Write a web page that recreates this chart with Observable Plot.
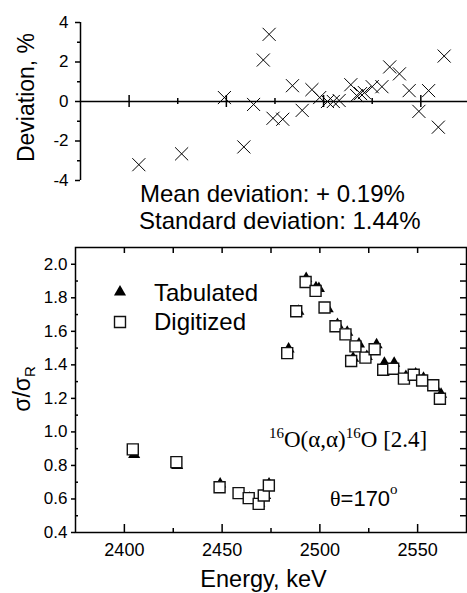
<!DOCTYPE html>
<html><head><meta charset="utf-8">
<script src="https://cdn.jsdelivr.net/npm/d3@7"></script>
<script src="https://cdn.jsdelivr.net/npm/@observablehq/plot@0.6"></script>
<style>
html,body{margin:0;padding:0;background:#fff;}
#wrap{position:relative;width:467px;height:593px;overflow:hidden;font-family:"Liberation Sans",Arial,sans-serif;}
#wrap svg{position:absolute;left:0;}
</style></head><body><div id="wrap"></div>
<script>
// ---- data ----
const devEnergy  = [2405, 2427, 2449, 2459, 2464, 2469, 2472, 2474, 2479, 2484, 2489, 2494, 2498, 2502, 2505, 2508, 2514, 2517, 2519, 2521, 2525, 2530, 2534, 2539, 2544, 2549, 2554, 2559, 2562];
const devPercent = [-3.2, -2.65, 0.2, -2.3, -0.15, 2.1, 3.4, -0.85, -0.9, 0.8, -0.45, 0.6, 0.2, 0.0, 0.0, 0.05, 0.85, 0.3, 0.4, 0.45, 0.75, 0.75, 1.75, 1.4, 0.55, -0.5, 0.55, -1.3, 2.3];

const digEnergy = [2404.3, 2426.6, 2448.7, 2458.4, 2463.6, 2468.7, 2471.3, 2473.9, 2483.3, 2487.9, 2492.7, 2497.8, 2502.4, 2508, 2513.1, 2516, 2518.2, 2523.3, 2528, 2532.4, 2537.5, 2543, 2548, 2552.3, 2558, 2561.4];
const digSigma  = [0.896, 0.82, 0.67, 0.635, 0.605, 0.571, 0.621, 0.68, 1.47, 1.72, 1.894, 1.841, 1.742, 1.63, 1.582, 1.423, 1.51, 1.443, 1.493, 1.371, 1.377, 1.318, 1.341, 1.307, 1.278, 1.198];

const tabEnergy = [2405, 2427, 2449, 2459, 2464, 2469, 2472, 2474, 2484, 2489, 2493, 2498, 2499.5, 2504, 2509, 2514, 2517, 2520, 2524, 2529, 2533, 2538, 2544, 2549, 2553, 2559, 2562];
const tabSigma  = [0.866, 0.80, 0.69, 0.62, 0.605, 0.575, 0.62, 0.69, 1.495, 1.72, 1.915, 1.86, 1.855, 1.735, 1.64, 1.595, 1.44, 1.525, 1.45, 1.52, 1.41, 1.41, 1.33, 1.345, 1.32, 1.265, 1.225];

const xDomain = [2375, 2575];
const xMajorTicks = [2400, 2450, 2500, 2550];
const xMinorTicks = [2425, 2475, 2525];
const xTopTicks = [2400, 2425, 2450, 2475, 2500, 2525, 2550];
const devDomain = [-4, 4];
const devMajorTicks = [-4, -2, 0, 2, 4];
const devMinorTicks = [-3, -1, 1, 3];
const sigmaDomain = [0.4, 2.1];
const sigmaMajorTicks = [0.4, 0.6, 0.8, 1.0, 1.2, 1.4, 1.6, 1.8, 2.0];
const sigmaMinorTicks = [0.5, 0.7, 0.9, 1.1, 1.3, 1.5, 1.7, 1.9];
const sigmaRightTicks = [0.5, 0.6, 0.7, 0.8, 0.9, 1.0, 1.1, 1.2, 1.3, 1.4, 1.5, 1.6, 1.7, 1.8, 1.9, 2.0];

const dev = devEnergy.map((e, i) => ({e, d: devPercent[i]}));
const dig = digEnergy.map((e, i) => ({e, s: digSigma[i]}));
const tab = tabEnergy.map((e, i) => ({e, s: tabSigma[i]}));

const font = "'Liberation Sans', Arial, sans-serif";
const wrap = document.getElementById("wrap");

// ---- top panel: deviation ----
const topPlot = Plot.plot({
  width: 467, height: 200,
  marginLeft: 80, marginRight: 0, marginTop: 22, marginBottom: 20,
  style: {fontFamily: font, fontSize: "17px", color: "#000", background: "transparent", overflow: "visible"},
  x: {domain: [xDomain[0], 2574], axis: null, label: null},
  y: {domain: devDomain, label: null},
  marks: [
    Plot.ruleX([xDomain[0]], {stroke: "#000", strokeWidth: 1.5}),
    Plot.ruleY([0], {stroke: "#000", strokeWidth: 1.5}),
    Plot.ruleX(xMajorTicks, {y1: 0, y2: 0, insetTop: -6, insetBottom: -6, stroke: "#000", strokeWidth: 1.5}),
    Plot.ruleX(xMinorTicks, {y1: 0, y2: 0, insetTop: -3, insetBottom: -3, stroke: "#000", strokeWidth: 1.5}),
    Plot.axisY(devMajorTicks, {anchor: "left", tickSize: 5, tickPadding: 7, strokeWidth: 1.5, tickFormat: d => String(d), label: null, fontSize: 17}),
    Plot.axisY(devMinorTicks, {anchor: "left", tickSize: 3, strokeWidth: 1.5, tickFormat: () => "", label: null}),
    Plot.dot(dev, {x: "e", y: "d", symbol: "times", r: 6, stroke: "#000", strokeWidth: 1})
  ]
});
topPlot.style.top = "0px";
wrap.appendChild(topPlot);

// ---- bottom panel: cross sections ----
const botPlot = Plot.plot({
  width: 467, height: 353,
  marginLeft: 75, marginRight: 1, marginTop: 7, marginBottom: 61,
  style: {fontFamily: font, fontSize: "17px", color: "#000", background: "transparent", overflow: "visible"},
  x: {domain: xDomain, label: null},
  y: {domain: sigmaDomain, label: null},
  marks: [
    Plot.axisX(xMajorTicks, {anchor: "bottom", tickSize: 0, tickPadding: 11, tickFormat: d => String(d), label: null, fontSize: 18}),
    Plot.axisX(xMajorTicks, {anchor: "bottom", tickSize: -8, strokeWidth: 1.5, tickFormat: () => "", label: null}),
    Plot.axisX(xMinorTicks, {anchor: "bottom", tickSize: -4, strokeWidth: 1.5, tickFormat: () => "", label: null}),
    Plot.axisX(xTopTicks, {anchor: "top", tickSize: -5, strokeWidth: 1.5, tickFormat: () => "", label: null}),
    Plot.axisY(sigmaMajorTicks, {anchor: "left", tickSize: 4, tickPadding: 4, strokeWidth: 1.5, tickFormat: d3.format(".1f"), label: null, fontSize: 17}),
    Plot.axisY(sigmaMinorTicks, {anchor: "left", tickSize: -3, strokeWidth: 1.5, tickFormat: () => "", label: null}),
    Plot.axisY(sigmaRightTicks, {anchor: "right", tickSize: -7, strokeWidth: 1.5, tickFormat: () => "", label: null}),
    Plot.frame({stroke: "#000", strokeWidth: 1.5}),
    Plot.dot(tab, {x: "e", y: "s", symbol: "triangle", r: 4.5, fill: "#000"}),
    Plot.dot(dig, {x: "e", y: "s", symbol: "square", r: 6.2, fill: "#fff", stroke: "#111", strokeWidth: 1.4})
  ]
});
botPlot.style.top = "240px";
wrap.appendChild(botPlot);

// ---- overlay texts, legend ----
const ov = d3.select(wrap).append("svg")
  .attr("width", 467).attr("height", 593)
  .style("top", "0px").style("pointer-events", "none")
  .style("font-family", font);

ov.append("text").attr("transform", "translate(34,97.5) rotate(-90)")
  .attr("text-anchor", "middle").attr("font-size", 23).text("Deviation, %");

ov.append("text").attr("x", 140).attr("y", 202).attr("font-size", 24).text("Mean deviation: + 0.19%");
ov.append("text").attr("x", 139).attr("y", 229).attr("font-size", 24).text("Standard deviation: 1.44%");

// y label of bottom panel
const yl = ov.append("text").attr("transform", "translate(30,389) rotate(-90)")
  .attr("text-anchor", "middle").attr("font-size", 23);
yl.append("tspan").text("σ/σ");
yl.append("tspan").attr("font-size", 15).attr("dy", 5).text("R");

// legend
ov.append("path").attr("d", d3.symbol(d3.symbolTriangle, 4.5 * 4.5 * Math.PI)()).attr("transform", "translate(120,292)").attr("fill", "#000");
ov.append("path").attr("d", d3.symbol(d3.symbolSquare, 6.2 * 6.2 * Math.PI)()).attr("transform", "translate(120,322)")
  .attr("fill", "#fff").attr("stroke", "#111").attr("stroke-width", 1.4);
ov.append("text").attr("x", 154).attr("y", 301).attr("font-size", 24).text("Tabulated");
ov.append("text").attr("x", 154).attr("y", 330).attr("font-size", 24).text("Digitized");

// reaction label
const rl = ov.append("text").attr("x", 269).attr("y", 447).attr("font-size", 23)
  .attr("font-family", "'Liberation Serif', 'Times New Roman', serif");
rl.append("tspan").attr("font-size", 15).attr("dy", -9).text("16");
rl.append("tspan").attr("dy", 9).text("O(α,α)");
rl.append("tspan").attr("font-size", 15).attr("dy", -9).text("16");
rl.append("tspan").attr("dy", 9).text("O [2.4]");

// angle label
const al = ov.append("text").attr("x", 330).attr("y", 506).attr("font-size", 22);
al.append("tspan").attr("font-family", "'Liberation Serif', serif").text("θ");
al.append("tspan").text("=170");
al.append("tspan").attr("font-family", "'Liberation Serif', serif").attr("font-size", 15).attr("dy", -12).text("o");

ov.append("text").attr("x", 263.5).attr("y", 587).attr("text-anchor", "middle").attr("font-size", 23.5).text("Energy, keV");
</script></body></html>
